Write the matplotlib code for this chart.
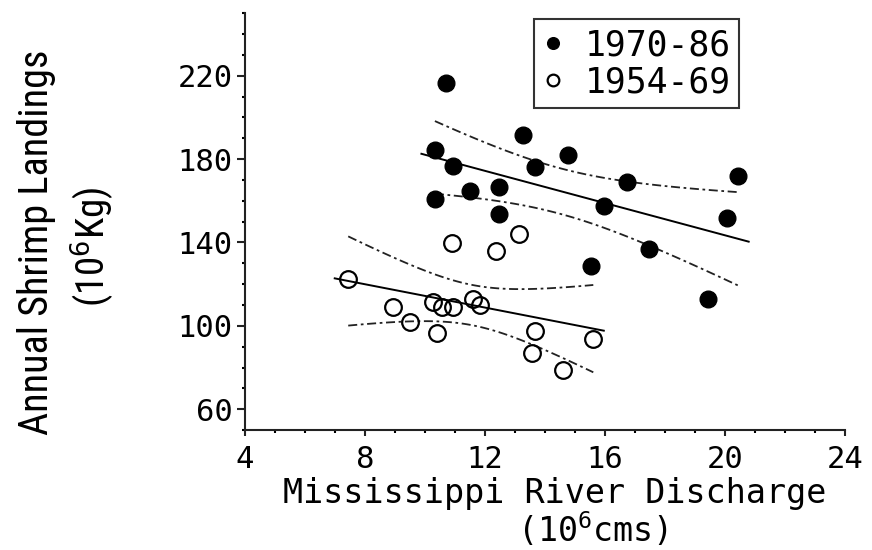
## Shrimp landings vs Mississippi River discharge, two periods with regression + 95% bands
import numpy as np
import matplotlib.pyplot as plt
from matplotlib.ticker import MultipleLocator

## Values (discharge in 10^6 cms, landings in 10^6 kg)
discharge_7086 = [10.70, 13.26, 10.33, 10.94, 13.66, 11.50, 12.46, 10.33, 12.46,
                  14.78, 16.72, 20.44, 15.97, 20.06, 17.48, 15.52, 19.44]
landings_7086 = [216.5, 191.5, 184.3, 176.9, 176.0, 164.7, 166.7, 160.8, 153.6,
                 181.9, 169.1, 171.8, 157.4, 151.8, 137.1, 128.8, 112.8]

discharge_5469 = [10.89, 13.12, 12.36, 7.44, 8.92, 10.28, 10.56, 10.94,
                  11.61, 11.83, 9.50, 10.39, 13.67, 13.58, 15.61, 14.59]
landings_5469 = [139.8, 144.3, 136.0, 122.4, 109.1, 111.5, 109.1, 109.1,
                 113.1, 109.9, 101.9, 96.4, 97.5, 86.8, 93.5, 78.8]

period_labels = ['1970-86', '1954-69']
x_ticks = [4, 8, 12, 16, 20, 24]
y_ticks = [60, 100, 140, 180, 220]

## two-sided 95% t values for n-2 degrees of freedom
t_crit = {15: 2.131, 14: 2.145}

plt.rcParams['font.family'] = ['DejaVu Sans Mono', 'DejaVu Sans']
plt.rcParams['mathtext.fontset'] = 'custom'
plt.rcParams['mathtext.rm'] = 'DejaVu Sans Mono'


def fit_with_band(x, y):
    x = np.asarray(x, dtype=float)
    y = np.asarray(y, dtype=float)
    n = len(x)
    slope, intercept = np.polyfit(x, y, 1)
    resid = y - (slope * x + intercept)
    s = np.sqrt(np.sum(resid ** 2) / (n - 2))
    sxx = np.sum((x - x.mean()) ** 2)
    t = t_crit[n - 2]

    def band(xs):
        yhat = slope * xs + intercept
        hw = t * s * np.sqrt(1.0 / n + (xs - x.mean()) ** 2 / sxx)
        return yhat, yhat - hw, yhat + hw
    return band


fig = plt.figure(figsize=(8.72, 5.5), dpi=100)
ax = fig.add_axes([0.281, 0.218, 0.688, 0.758])

band_style = dict(color='#222222', lw=1.3, ls=(0, (5, 2, 1.5, 2)))

for xs, ys in [(discharge_7086, landings_7086), (discharge_5469, landings_5469)]:
    band = fit_with_band(xs, ys)
    xl = np.linspace(min(xs) - 0.45, max(xs) + 0.35, 50)
    ax.plot(xl, band(xl)[0], color='black', lw=1.4)
    xb = np.linspace(min(xs), max(xs), 80)
    _, lo, hi = band(xb)
    ax.plot(xb, lo, **band_style)
    ax.plot(xb, hi, **band_style)

ax.plot(discharge_7086, landings_7086, 'o', color='black', ms=12,
        label=period_labels[0], zorder=3)
ax.plot(discharge_5469, landings_5469, 'o', mfc='none', mec='black', mew=1.6,
        ms=12, label=period_labels[1], zorder=3)

ax.set_xlim(4, 24)
ax.set_ylim(50, 250)
ax.set_xticks(x_ticks)
ax.set_yticks(y_ticks)
ax.xaxis.set_minor_locator(MultipleLocator(1))
ax.yaxis.set_minor_locator(MultipleLocator(10))
ax.tick_params(axis='both', which='major', labelsize=22, width=1.5, color='#222222')
ax.tick_params(axis='x', which='major', length=4, pad=7)
ax.tick_params(axis='y', which='major', length=6, pad=3)
ax.tick_params(axis='both', which='minor', length=2.5, width=1.5)

for side in ['top', 'right']:
    ax.spines[side].set_visible(False)
for side in ['left', 'bottom']:
    ax.spines[side].set_linewidth(1.5)
    ax.spines[side].set_color('#222222')

leg = ax.legend(loc='upper left', bbox_to_anchor=(0.482, 0.985), fontsize=25,
                frameon=True, fancybox=False, edgecolor='black', markerscale=0.7,
                handlelength=0.6, handletextpad=0.6, borderpad=0.25,
                labelspacing=0.1, borderaxespad=0)
leg.get_frame().set_linewidth(1.5)

## axis titles placed as figure text to mimic the original layout
narrow = ['Roboto Condensed', 'Liberation Sans']
fig.text(36 / 872, 1 - 242 / 550, 'Annual Shrimp Landings', rotation=90,
         ha='center', va='center', fontsize=29, family=narrow)
fig.text(92 / 872, 1 - 247 / 550, '(10$^6$Kg)', rotation=90,
         ha='center', va='center', fontsize=28, family=narrow)
fig.text(555 / 872, 1 - 494 / 550, 'Mississippi River Discharge',
         ha='center', va='center', fontsize=24)
fig.text(593 / 872, 1 - 530 / 550, '(10$^6$cms)',
         ha='center', va='center', fontsize=24)

fig.savefig('out.png', dpi=100)
